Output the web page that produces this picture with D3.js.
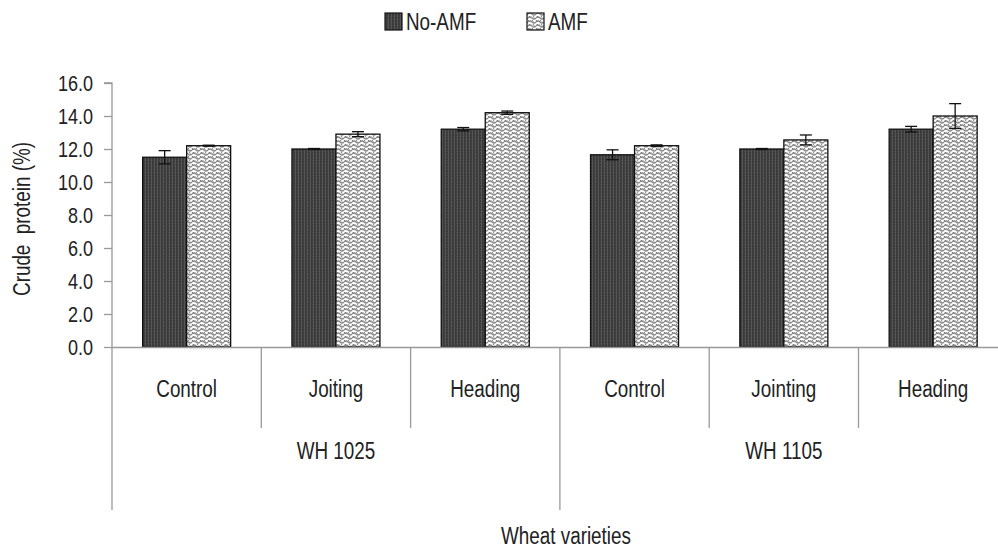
<!DOCTYPE html>
<html><head><meta charset="utf-8">
<script src="https://cdn.jsdelivr.net/npm/d3@7"></script>
<style>body{margin:0;background:#fff}svg{display:block}text{fill:#222}</style>
</head><body><svg id="c" width="998" height="549"></svg>
<script>
const stages = ["Control","Joiting","Heading","Control","Jointing","Heading"];
const varieties = ["WH 1025","WH 1105"];
const seriesNames = ["No-AMF","AMF"];
const noAmf = [11.5, 12.0, 13.2, 11.65, 12.0, 13.2];
const noAmfErr = [0.4, 0.03, 0.1, 0.3, 0.03, 0.17];
const amf = [12.2, 12.9, 14.2, 12.2, 12.55, 14.0];
const amfErr = [0.03, 0.15, 0.1, 0.05, 0.3, 0.75];
const yTicks = [0,2,4,6,8,10,12,14,16];

const svg = d3.select("#c");

// font: prefer a narrow sans; fall back to horizontally-condensed Liberation Sans
const probe = svg.append("text").attr("font-size",100).style("font-family","'Liberation Sans Narrow', 'Arial Narrow', monospace").text("Control");
const probe2 = svg.append("text").attr("font-size",100).style("font-family","monospace").text("Control");
const hasNarrow = Math.abs(probe.node().getComputedTextLength() - probe2.node().getComputedTextLength()) > 1;
probe.remove(); probe2.remove();
const FONT = hasNarrow ? "'Liberation Sans Narrow','Arial Narrow',sans-serif" : "'Liberation Sans',Arial,sans-serif";
const SX = hasNarrow ? 1 : 0.82;
const FS = 23;
function txt(sel, x, y, anchor){
  sel.style("font-family",FONT).attr("text-anchor",anchor||"start")
     .attr("transform",`translate(${x},${y}) scale(${SX},1)`).attr("x",0).attr("y",0);
  return sel;
}

const defs = svg.append("defs");
const p1 = defs.append("pattern").attr("id","pNo").attr("patternUnits","userSpaceOnUse").attr("width",3).attr("height",3);
p1.append("rect").attr("width",3).attr("height",3).attr("fill","#3a3a3a");
p1.append("rect").attr("x",1).attr("width",1).attr("height",3).attr("fill","#555");
p1.append("rect").attr("x",0).attr("y",1).attr("width",1).attr("height",1).attr("fill","#4a4a4a");
const p2 = defs.append("pattern").attr("id","pAmf").attr("patternUnits","userSpaceOnUse").attr("width",8).attr("height",8);
p2.append("rect").attr("width",8).attr("height",8).attr("fill","#fff");
p2.append("path").attr("d","M0,2 Q2,0 4,2 T8,2 M0,6 Q2,4 4,6 T8,6").attr("fill","none").attr("stroke","#888").attr("stroke-width",1.3);
p2.append("path").attr("d","M1,0 L7,8 M-3,0 L3,8 M5,0 L11,8").attr("fill","none").attr("stroke","#777").attr("stroke-width",1).attr("stroke-dasharray","2,3");

const x0 = 112, bandW = 149.3;
const x = d3.scaleBand().domain(d3.range(6)).range([x0, x0+6*bandW]).paddingInner(0).paddingOuter(0);
const y = d3.scaleLinear().domain([0,16]).range([347,83]);
const barW = 44;

// y axis
const yAxis = d3.axisLeft(y).tickValues(yTicks).tickFormat(d3.format(".1f")).tickSize(8).tickPadding(11);
const gy = svg.append("g").attr("transform",`translate(${x0},0)`).call(yAxis);
gy.selectAll("path,line").attr("stroke","#999").attr("stroke-width",1.3);
gy.select(".domain").attr("d",`M-8,83H0V347`);
gy.selectAll(".tick text").each(function(){
  const t = d3.select(this);
  t.attr("font-size",22).attr("fill","#222").attr("dy","0.35em").style("font-family",FONT)
   .attr("transform",`translate(-19,0) scale(${SX},1)`).attr("x",0);
});

txt(svg.append("text").attr("font-size",FS).attr("xml:space","preserve").text("Crude  protein (%)"),0,0,"middle")
  .attr("transform",`translate(30,219) rotate(-90) scale(${SX},1)`);

// bars
const groups = svg.append("g").selectAll("g").data(d3.range(6)).join("g");
const c = i => x(i) + x.bandwidth()/2;
groups.append("rect").attr("x",i=>c(i)-barW).attr("y",i=>y(noAmf[i])).attr("width",barW)
  .attr("height",i=>y(0)-y(noAmf[i])).attr("fill","url(#pNo)").attr("stroke","#111").attr("stroke-width",1.3);
groups.append("rect").attr("x",i=>c(i)).attr("y",i=>y(amf[i])).attr("width",barW)
  .attr("height",i=>y(0)-y(amf[i])).attr("fill","url(#pAmf)").attr("stroke","#111").attr("stroke-width",1.3);

function errBar(cx, v, e){
  const g = svg.append("g").attr("stroke","#111").attr("stroke-width",1.3);
  g.append("line").attr("x1",cx).attr("x2",cx).attr("y1",y(v+e)).attr("y2",y(v-e));
  g.append("line").attr("x1",cx-6).attr("x2",cx+6).attr("y1",y(v+e)).attr("y2",y(v+e));
  g.append("line").attr("x1",cx-6).attr("x2",cx+6).attr("y1",y(v-e)).attr("y2",y(v-e));
}
d3.range(6).forEach(i=>{ errBar(c(i)-barW/2, noAmf[i], noAmfErr[i]); errBar(c(i)+barW/2, amf[i], amfErr[i]); });

// x axis
const ax = svg.append("g").attr("stroke","#999").attr("stroke-width",1.3);
ax.append("line").attr("x1",x0).attr("x2",998).attr("y1",347.5).attr("y2",347.5);
d3.range(7).forEach(i=>{
  const xx = x0 + i*bandW;
  const long = (i%3===0);
  ax.append("line").attr("x1",xx).attr("x2",xx).attr("y1",347).attr("y2",long?510:428);
});
stages.forEach((d,i)=> txt(svg.append("text").attr("font-size",FS).text(d), c(i), 397, "middle"));
varieties.forEach((d,i)=> txt(svg.append("text").attr("font-size",FS).text(d), x0+(i*3+1.5)*bandW, 459, "middle"));
txt(svg.append("text").attr("font-size",FS).text("Wheat varieties"), 566, 544, "middle");

// legend
const leg = [{n:seriesNames[0],f:"url(#pNo)",x:385,tx:406},{n:seriesNames[1],f:"url(#pAmf)",x:527,tx:548}];
leg.forEach(d=>{
  svg.append("rect").attr("x",d.x).attr("y",13).attr("width",17).attr("height",17).attr("fill",d.f).attr("stroke","#111").attr("stroke-width",1.2);
  txt(svg.append("text").attr("font-size",FS).text(d.n), d.tx, 30, "start");
});
</script></body></html>
